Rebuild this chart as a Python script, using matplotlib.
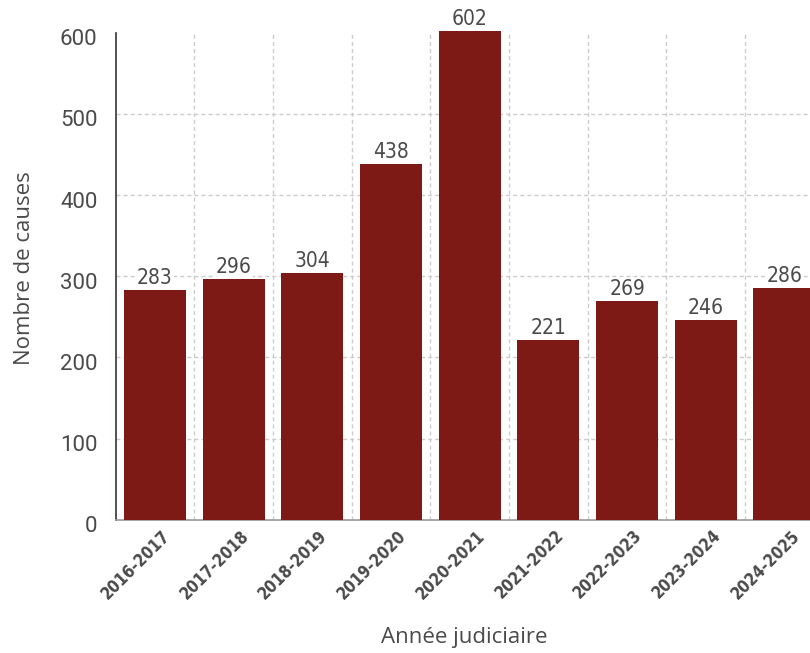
import matplotlib
matplotlib.use('Agg')
import matplotlib.pyplot as plt
import matplotlib.transforms as mtransforms
import numpy as np

# Data
annees = ["2016-2017", "2017-2018", "2018-2019", "2019-2020", "2020-2021",
          "2021-2022", "2022-2023", "2023-2024", "2024-2025"]
causes = [283, 296, 304, 438, 602, 221, 269, 246, 286]
y_ticks = [0, 100, 200, 300, 400, 500, 600]

BAR_COLOR = '#7d1a16'
TEXT_COLOR = '#4a4a4a'

fig = plt.figure(figsize=(8.1, 6.53), dpi=100)
ax = fig.add_axes([0.1427, 0.2041, 0.8744, 0.7458])

x = np.arange(len(annees))
bars = ax.bar(x, causes, width=0.79, color=BAR_COLOR, zorder=3, clip_on=False)

ax.set_xlim(-0.5, len(annees) - 0.5)
ax.set_ylim(0, 600)

# Grid: horizontal inside, vertical between categories
for v in y_ticks[1:-1]:
    ax.axhline(v, color='#cccccc', linewidth=1, linestyle=(0, (2.9, 2.2)), zorder=1)
for b in x[:-1] + 0.5:
    ax.axvline(b, color='#cccccc', linewidth=1, linestyle=(0, (2.9, 2.2)), zorder=1)

# Spines
for s in ['top', 'right']:
    ax.spines[s].set_visible(False)
ax.spines['left'].set_color('#333333')
ax.spines['left'].set_linewidth(1.2)
ax.spines['bottom'].set_color('#999999')
ax.spines['bottom'].set_linewidth(1.2)

# Y ticks
ax.set_yticks(y_ticks)
ax.tick_params(axis='y', length=0, pad=13, labelsize=16, labelcolor=TEXT_COLOR)
for lbl in ax.get_yticklabels():
    lbl.set_fontfamily(['Roboto', 'DejaVu Sans'])
    lbl.set_transform(lbl.get_transform() +
                      mtransforms.ScaledTranslation(0, -4.5 / 100, fig.dpi_scale_trans))

# X ticks
ax.set_xticks(x)
ax.set_xticklabels(annees)
ax.tick_params(axis='x', length=0, pad=5, labelcolor=TEXT_COLOR)
for lbl in ax.get_xticklabels():
    lbl.set_fontfamily('DejaVu Sans')
    lbl.set_fontstretch('condensed')
    lbl.set_fontweight('bold')
    lbl.set_fontsize(12)
    lbl.set_rotation(45)
    lbl.set_ha('right')
    lbl.set_va('top')
    lbl.set_rotation_mode('anchor')
    lbl.set_transform(lbl.get_transform() +
                      mtransforms.ScaledTranslation(6 / 100, 0, fig.dpi_scale_trans))

# Value labels
for xi, v in zip(x, causes):
    ax.annotate(f'{v}', xy=(xi, v), xytext=(0, 4.3), textcoords='offset points',
                ha='center', va='baseline', fontsize=15, color=TEXT_COLOR,
                family='DejaVu Sans', fontstretch='condensed', zorder=4,
                annotation_clip=False,
                bbox=dict(facecolor='white', edgecolor='none', pad=1))

# Axis titles
fig.text(25 / 810, 1 - 268 / 653, 'Nombre de causes', rotation=90, ha='center', va='center',
         fontsize=16, color=TEXT_COLOR, family=['Open Sans', 'DejaVu Sans'])
fig.text(464 / 810, 1 - 637 / 653, 'Année judiciaire', ha='center', va='center',
         fontsize=16, color=TEXT_COLOR, family=['Open Sans', 'DejaVu Sans'])

plt.savefig('out.png', dpi=100)
plt.close()
